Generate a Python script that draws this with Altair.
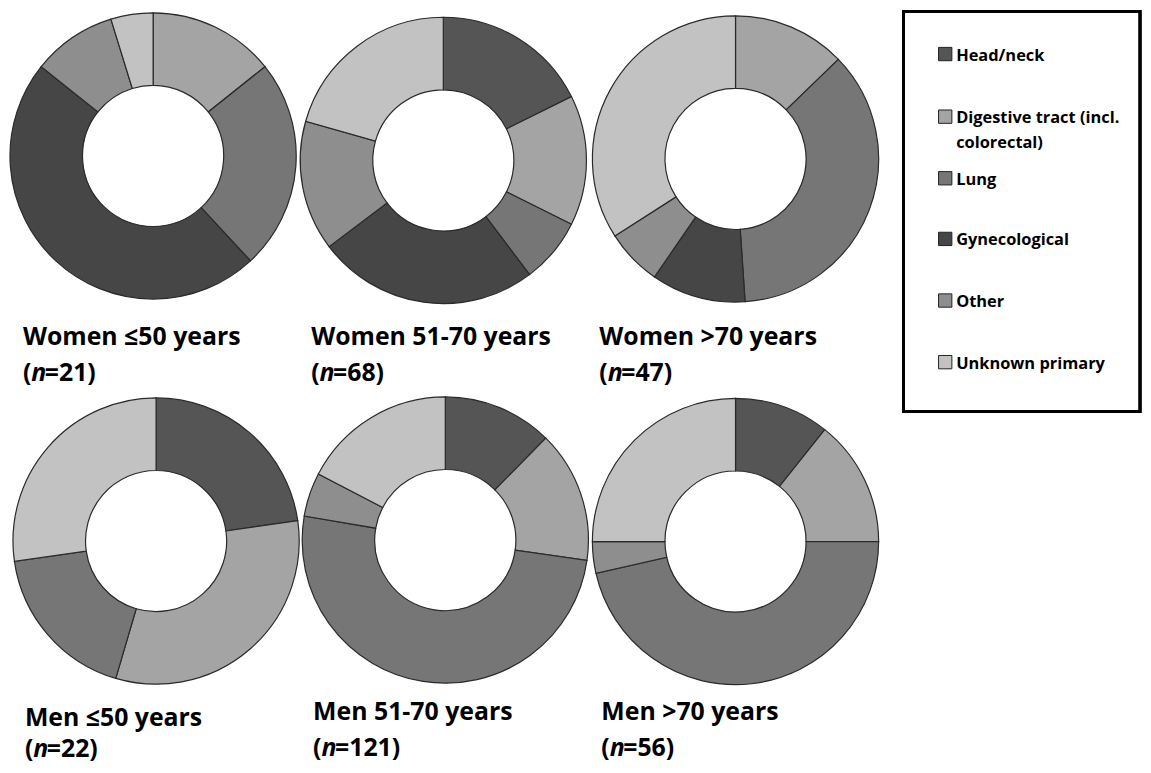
import altair as alt
import pandas as pd

# ---------------- data ----------------
categories = ["Head/neck", "Digestive tract (incl. colorectal)", "Lung",
              "Gynecological", "Other", "Unknown primary"]
legend_labels = ["Head/neck", "Digestive tract (incl.\ncolorectal)", "Lung",
                 "Gynecological", "Other", "Unknown primary"]
panel_titles = ["Women ≤50 years", "Women 51-70 years", "Women >70 years",
                "Men ≤50 years", "Men 51-70 years", "Men >70 years"]
panel_n = [21, 68, 47, 22, 121, 56]
counts_women_le50 = [0, 3, 5, 10, 2, 1]
counts_women_51_70 = [12, 10, 5, 17, 10, 14]
counts_women_gt70 = [0, 6, 17, 5, 3, 16]
counts_men_le50 = [5, 7, 4, 0, 0, 6]
counts_men_51_70 = [15, 18, 61, 0, 6, 21]
counts_men_gt70 = [6, 8, 26, 0, 2, 14]
panel_counts = [counts_women_le50, counts_women_51_70, counts_women_gt70,
                counts_men_le50, counts_men_51_70, counts_men_gt70]

# ---------------- layout / style ----------------
OFF = 8  # page margin
CENTERS = [(154, 154.5), (446, 159), (740, 157.5), (157, 542), (448, 541), (740, 542.5)]
TITLE_POS = [(23, 345), (313, 345), (603, 345), (25, 728), (315, 722), (605, 722)]
N_BASE = [381, 381, 381, 759, 758, 758]
LEGEND_Y = [52, 115, 177, 238, 300, 362]
COLORS = ["#555555", "#a4a4a4", "#767676", "#464646", "#8e8e8e", "#c2c2c2"]
FONT = "Open Sans"
TITLE_SIZE = 25

arc_rows, title_rows = [], []
for i, (title, n, counts) in enumerate(zip(panel_titles, panel_n, panel_counts)):
    cx, cy = CENTERS[i]
    for j, (cat, c) in enumerate(zip(categories, counts)):
        if c > 0:
            arc_rows.append({"panel": title, "category": cat, "count": c, "order": j,
                             "cx": cx - OFF, "cy": cy - OFF})
    tx, ty = TITLE_POS[i]
    title_rows.append({"title": title, "ntext": f"={n})", "tx": tx - OFF,
                       "ty": ty - OFF, "ny": N_BASE[i] - OFF})
arcs = pd.DataFrame(arc_rows)
titles = pd.DataFrame(title_rows)
leg = pd.DataFrame({"category": categories, "label": legend_labels,
                    "ly": [y - OFF for y in LEGEND_Y]})

color = alt.Color("category:N", scale=alt.Scale(domain=categories, range=COLORS), legend=None)

donuts = alt.Chart(arcs).transform_joinaggregate(
    total="sum(count)", groupby=["panel"]
).transform_window(
    cum="sum(count)", sort=[alt.SortField("order")], groupby=["panel"], frame=[None, 0]
).transform_calculate(
    t0="(datum.cum - datum.count) / datum.total", t1="datum.cum / datum.total"
).mark_arc(outerRadius=144, innerRadius=71, stroke="#2a2a2a", strokeWidth=1.2).encode(
    x=alt.X("cx:Q", scale=None),
    y=alt.Y("cy:Q", scale=None),
    theta=alt.Theta("t0:Q", scale=alt.Scale(domain=[0, 1], range=[0, 6.283185307179586])),
    theta2="t1:Q",
    color=color,
)

tbase = alt.Chart(titles)
title_text = tbase.mark_text(align="left", baseline="alphabetic", font=FONT,
                             fontWeight="bold", fontSize=TITLE_SIZE, color="black").encode(
    x=alt.X("tx:Q", scale=None), y=alt.Y("ty:Q", scale=None), text="title:N")
paren = tbase.mark_text(align="left", baseline="alphabetic", font=FONT,
                        fontWeight="bold", fontSize=TITLE_SIZE, color="black").encode(
    x=alt.X("tx:Q", scale=None), y=alt.Y("ny:Q", scale=None), text=alt.value("("))
nital = tbase.mark_text(align="left", baseline="alphabetic", font=FONT, fontStyle="italic",
                        fontWeight="bold", fontSize=TITLE_SIZE, color="black", dx=8.5).encode(
    x=alt.X("tx:Q", scale=None), y=alt.Y("ny:Q", scale=None), text=alt.value("n"))
nrest = tbase.mark_text(align="left", baseline="alphabetic", font=FONT,
                        fontWeight="bold", fontSize=TITLE_SIZE, color="black", dx=22).encode(
    x=alt.X("tx:Q", scale=None), y=alt.Y("ny:Q", scale=None), text="ntext:N")

lbase = alt.Chart(leg)
leg_sq = lbase.mark_square(size=180, stroke="#222222", strokeWidth=1, opacity=1).encode(
    x=alt.value(951 - OFF), y=alt.Y("ly:Q", scale=None), color=color)
leg_tx = lbase.mark_text(align="left", baseline="alphabetic", font=FONT, fontWeight="bold",
                         fontSize=16.5, lineBreak="\n", lineHeight=25, color="black", dy=6.5).encode(
    x=alt.value(962 - OFF), y=alt.Y("ly:Q", scale=None), text="label:N")
box = alt.Chart(leg).mark_rect(fillOpacity=0, stroke="black", strokeWidth=2.5).encode(
    x=alt.value(909 - OFF), x2=alt.value(1147 - OFF), y=alt.value(9 - OFF), y2=alt.value(412 - OFF))

chart = alt.layer(donuts, title_text, paren, nital, nrest, box, leg_sq, leg_tx).properties(
    width=1142, height=757, padding=0, autosize=alt.AutoSizeParams(type="none")
).configure_view(stroke=None)

chart.save("out.html", embed_options={"renderer": "svg", "actions": False})
